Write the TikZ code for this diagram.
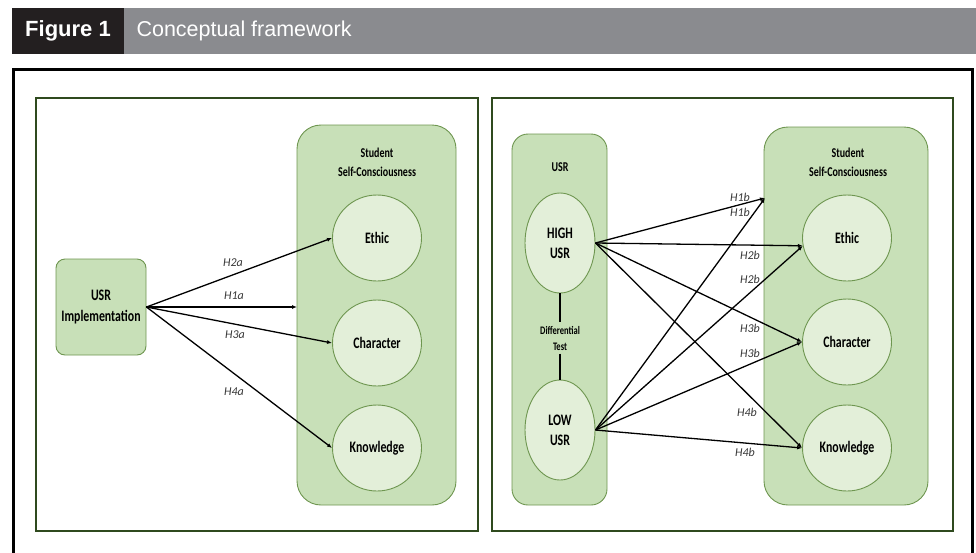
\documentclass[tikz,border=0pt]{standalone}
\usepackage{fontspec}
\setmainfont{Carlito}
\newfontfamily\headfont{Liberation Sans}
\newfontfamily\boxfont[FakeStretch=0.74]{Carlito}
\usetikzlibrary{arrows.meta,positioning,shapes.geometric,calc}
\definecolor{HeadDark}{RGB}{35,31,32}
\definecolor{HeadGray}{RGB}{138,139,143}
\definecolor{FrameGreen}{RGB}{47,74,30}
\definecolor{BoxGreen}{RGB}{200,224,184}
\definecolor{CircGreen}{RGB}{227,239,217}
\definecolor{LineGreen}{RGB}{110,150,80}
\definecolor{LabelGray}{RGB}{55,55,55}

\begin{document}
\begin{tikzpicture}[
        x=1pt, y=-1pt,
        panel/.style={draw=FrameGreen, line width=1.6pt},
        group/.style={draw=LineGreen, fill=BoxGreen, line width=0.9pt, rounded corners=24pt},
        factor/.style={ellipse, draw=LineGreen, fill=CircGreen, line width=0.9pt, minimum width=89pt, minimum height=86pt, inner sep=0pt, align=center, font=\boxfont\bfseries\fontsize{16}{18}\selectfont},
        level/.style={factor, minimum width=70pt, minimum height=100pt},
        title/.style={align=center, font=\boxfont\bfseries\fontsize{13.5}{19}\selectfont},
        hyp/.style={font=\itshape\fontsize{12}{12}\selectfont, text=LabelGray, inner sep=0pt},
        arrow/.style={-{Latex[length=5pt,width=4pt]}, line width=1.3pt, draw=black}
      ]
        \useasboundingbox (0,0) rectangle (976,552);
        % header bar
        \fill[HeadGray] (124,8) rectangle (976,54);
        \fill[HeadDark] (12,8) rectangle (124,54);
        \node[font=\headfont\bfseries\fontsize{22}{24}\selectfont, text=white] (fig) at (68,31) {Figure 1};
        \node[font=\headfont\fontsize{21.5}{24}\selectfont, text=white, anchor=west] (cap) at (133,31) {Conceptual framework};
        % outer frame
        \draw[line width=3pt] (13.5,560) -- (13.5,69.5) -- (972.5,69.5) -- (972.5,560);
        \draw[panel] (36,98) rectangle (478,531);
        \draw[panel] (492,98) rectangle (953,531);

        % left model
        \node[draw=LineGreen, fill=BoxGreen, line width=0.9pt, rounded corners=9pt, minimum width=90pt, minimum height=96pt, align=center, font=\boxfont\bfseries\fontsize{16}{21}\selectfont] (impl) at (101,307) {USR\\Implementation};
        \draw[group] (297,125) rectangle (456,505);
        \coordinate (sscL) at (297,315);
        \node[title] (ttlL) at (377,162) {Student\\Self-Consciousness};
        \node[factor] (ethicL) at (377,238) {Ethic};
        \node[factor] (charL) at (377,343) {Character};
        \node[factor] (knowL) at (377,448) {Knowledge};
        \draw[arrow] (impl.east) -- (ethicL.west);
        \draw[arrow] (impl.east) -- (impl.east -| sscL);
        \draw[arrow] (impl.east) -- (charL.west);
        \draw[arrow] (impl.east) -- (knowL.west);
        \node[hyp] (h2a) at (233,263) {H2a};
        \node[hyp] (h1a) at (234,296) {H1a};
        \node[hyp] (h3a) at (235,335) {H3a};
        \node[hyp] (h4a) at (234,392) {H4a};

        % right model
        \draw[group, rounded corners=16pt] (512,134) rectangle (607,505);
        \node[title] (usr) at (560,167) {USR};
        \node[level] (high) at (560,243) {HIGH\\[2pt]USR};
        \node[level] (low) at (560,430) {LOW\\[2pt]USR};
        \node[title, font=\boxfont\bfseries\fontsize{11.5}{16}\selectfont] (diff) at (560,338) {Differential\\Test};
        \draw[line width=1.2pt] (high.south) -- (diff.north);
        \draw[line width=1.2pt] (diff.south) -- (low.north);
        \draw[group] (764,127) rectangle (928,505);
        \coordinate (h1tip) at (765,198);
        \node[title] (ttlR) at (848,162) {Student\\Self-Consciousness};
        \node[factor] (ethicR) at (847,238) {Ethic};
        \node[factor] (charR) at (847,342) {Character};
        \node[factor] (knowR) at (847,448) {Knowledge};
        \foreach \src in {high,low}{
          \draw[arrow] (\src.east) -- (h1tip);
          \draw[arrow] (\src.east) -- (ethicR.190);
          \draw[arrow] (\src.east) -- (charR.west);
          \draw[arrow] (\src.east) -- (knowR.west);
        }
        \node[hyp] (h1b1) at (740,197) {H1b};
        \node[hyp] (h1b2) at (740,212) {H1b};
        \node[hyp] (h2b1) at (750,255) {H2b};
        \node[hyp] (h2b2) at (750,279) {H2b};
        \node[hyp] (h3b1) at (750,328) {H3b};
        \node[hyp] (h3b2) at (750,353) {H3b};
        \node[hyp] (h4b1) at (747,412) {H4b};
        \node[hyp] (h4b2) at (745,452) {H4b};
      \end{tikzpicture}
\end{document}
